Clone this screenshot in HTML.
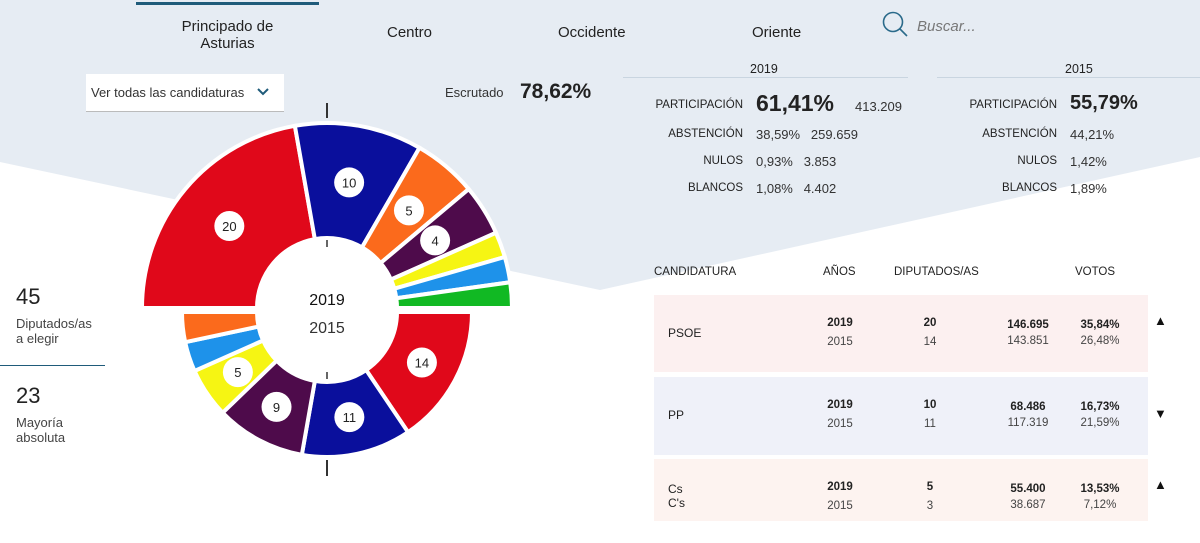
<!DOCTYPE html>
<html><head><meta charset="utf-8">
<style>
body{margin:0;width:1200px;height:543px;overflow:hidden;font-family:"Liberation Sans",sans-serif;color:#222;position:relative;background:#fff}
.a{position:absolute;white-space:nowrap}
.lbl{font-size:11.5px;color:#222;text-align:right;width:120px}
.row{position:absolute;left:654px;width:494px}
.c{position:absolute;font-size:11.5px;text-align:center;width:60px}
</style></head><body>
<svg class="a" style="left:0;top:0" width="1200" height="543">
<polygon points="0,0 1200,0 1200,157 600,290 0,162" fill="#e6ecf3"/>
</svg>
<div class="a" style="left:136px;top:2px;width:183px;height:3px;background:#1f5b7a"></div>
<div class="a" style="left:136px;top:18px;width:183px;text-align:center;font-size:15px;line-height:17px;white-space:normal">Principado de<br>Asturias</div>
<div class="a" style="left:387px;top:24px;font-size:15px">Centro</div>
<div class="a" style="left:558px;top:24px;font-size:15px">Occidente</div>
<div class="a" style="left:752px;top:24px;font-size:15px">Oriente</div>
<svg class="a" style="left:881px;top:10px" width="30" height="28"><circle cx="12" cy="12" r="9.5" fill="none" stroke="#2a6a8a" stroke-width="1.6"/><line x1="19" y1="19" x2="26" y2="26" stroke="#2a6a8a" stroke-width="1.6"/></svg>
<div class="a" style="left:917px;top:18px;font-size:15px;font-style:italic;color:#777">Buscar...</div>
<div class="a" style="left:86px;top:74px;width:198px;height:37px;background:#fff;border-bottom:1px solid #bbb"><span style="position:absolute;left:5px;top:11px;font-size:13px;color:#333">Ver todas las candidaturas</span><svg style="position:absolute;left:170px;top:13px" width="14" height="10"><polyline points="2,2 7,7 12,2" fill="none" stroke="#1f5b7a" stroke-width="2"/></svg></div>
<div class="a" style="left:445px;top:85px;font-size:13px;color:#333">Escrutado</div>
<div class="a" style="left:520px;top:80px;font-size:21px;font-weight:bold;color:#222">78,62%</div>

<div class="a" style="left:623px;top:77px;width:285px;height:1px;background:#c9d5e0"></div>
<div class="a" style="left:750px;top:62px;font-size:12.5px">2019</div>
<div class="a" style="left:937px;top:77px;width:263px;height:1px;background:#c9d5e0"></div>
<div class="a" style="left:1065px;top:62px;font-size:12.5px">2015</div>

<div class="a lbl" style="left:623px;top:99px">PARTICIPACIÓN</div>
<div class="a" style="left:756px;top:90px;font-size:23px;font-weight:bold">61,41%</div>
<div class="a" style="left:855px;top:99px;font-size:13px;color:#333">413.209</div>
<div class="a lbl" style="left:623px;top:128px">ABSTENCIÓN</div>
<div class="a" style="left:756px;top:127px;font-size:13px;color:#333">38,59% &nbsp; 259.659</div>
<div class="a lbl" style="left:623px;top:155px">NULOS</div>
<div class="a" style="left:756px;top:154px;font-size:13px;color:#333">0,93% &nbsp; 3.853</div>
<div class="a lbl" style="left:623px;top:182px">BLANCOS</div>
<div class="a" style="left:756px;top:181px;font-size:13px;color:#333">1,08% &nbsp; 4.402</div>

<div class="a lbl" style="left:937px;top:99px">PARTICIPACIÓN</div>
<div class="a" style="left:1070px;top:92px;font-size:20px;font-weight:bold">55,79%</div>
<div class="a lbl" style="left:937px;top:128px">ABSTENCIÓN</div>
<div class="a" style="left:1070px;top:127px;font-size:13px;color:#333">44,21%</div>
<div class="a lbl" style="left:937px;top:155px">NULOS</div>
<div class="a" style="left:1070px;top:154px;font-size:13px;color:#333">1,42%</div>
<div class="a lbl" style="left:937px;top:182px">BLANCOS</div>
<div class="a" style="left:1070px;top:181px;font-size:13px;color:#333">1,89%</div>

<div class="a" style="left:16px;top:284px;font-size:22px">45</div>
<div class="a" style="left:16px;top:316px;font-size:13px;line-height:15px;color:#444">Diputados/as<br>a elegir</div>
<div class="a" style="left:0;top:365px;width:105px;height:1px;background:#1f5b7a"></div>
<div class="a" style="left:16px;top:383px;font-size:22px">23</div>
<div class="a" style="left:16px;top:415px;font-size:13px;line-height:15px;color:#444">Mayoría<br>absoluta</div>

<svg id="chart" class="a" style="left:0;top:0" width="600" height="543"></svg>

<div class="a" style="left:654px;top:266px;font-size:11.5px">CANDIDATURA</div>
<div class="a" style="left:823px;top:266px;font-size:11.5px">AÑOS</div>
<div class="a" style="left:894px;top:266px;font-size:11.5px">DIPUTADOS/AS</div>
<div class="a" style="left:1075px;top:266px;font-size:11.5px">VOTOS</div>

<div class="row" style="top:295px;height:77px;background:#fcf0f0">
<div class="a" style="left:14px;top:31px;font-size:12px">PSOE</div>
<div class="c" style="left:156px;top:22px;font-weight:bold">2019</div><div class="c" style="left:156px;top:41px;color:#444">2015</div>
<div class="c" style="left:246px;top:22px;font-weight:bold">20</div><div class="c" style="left:246px;top:41px;color:#444">14</div>
<div class="c" style="left:344px;top:24px;font-weight:bold">146.695</div><div class="c" style="left:344px;top:40px;color:#444">143.851</div>
<div class="c" style="left:416px;top:24px;font-weight:bold">35,84%</div><div class="c" style="left:416px;top:40px;color:#444">26,48%</div>
<div class="a" style="left:500px;top:18px;font-size:13px;color:#111">▲</div>
</div>
<div class="row" style="top:377px;height:78px;background:#eff1f9">
<div class="a" style="left:14px;top:31px;font-size:12px">PP</div>
<div class="c" style="left:156px;top:22px;font-weight:bold">2019</div><div class="c" style="left:156px;top:41px;color:#444">2015</div>
<div class="c" style="left:246px;top:22px;font-weight:bold">10</div><div class="c" style="left:246px;top:41px;color:#444">11</div>
<div class="c" style="left:344px;top:24px;font-weight:bold">68.486</div><div class="c" style="left:344px;top:40px;color:#444">117.319</div>
<div class="c" style="left:416px;top:24px;font-weight:bold">16,73%</div><div class="c" style="left:416px;top:40px;color:#444">21,59%</div>
<div class="a" style="left:500px;top:29px;font-size:13px;color:#111">▼</div>
</div>
<div class="row" style="top:459px;height:62px;background:#fdf3f0">
<div class="a" style="left:14px;top:23px;font-size:12px;line-height:14px">Cs<br>C's</div>
<div class="c" style="left:156px;top:22px;font-weight:bold">2019</div><div class="c" style="left:156px;top:41px;color:#444">2015</div>
<div class="c" style="left:246px;top:22px;font-weight:bold">5</div><div class="c" style="left:246px;top:41px;color:#444">3</div>
<div class="c" style="left:344px;top:24px;font-weight:bold">55.400</div><div class="c" style="left:344px;top:40px;color:#444">38.687</div>
<div class="c" style="left:416px;top:24px;font-weight:bold">13,53%</div><div class="c" style="left:416px;top:40px;color:#444">7,12%</div>
<div class="a" style="left:500px;top:18px;font-size:13px;color:#111">▲</div>
</div>

<script>
const parties2019 = ["PSOE","PP","Cs","Podemos","IU","Foro","Vox"];
const seats2019 = [20,10,5,4,2,2,2];
const colors2019 = ["#e0081a","#0a0f9c","#fb6a1c","#4e0b4b","#f6f513","#1e92ea","#11b923"];
const parties2015 = ["PSOE","PP","Podemos","IU","Foro","Cs"];
const seats2015 = [14,11,9,5,3,3];
const colors2015 = ["#e0081a","#0a0f9c","#4e0b4b","#f6f513","#1e92ea","#fb6a1c"];
const totalSeats = 45;

const svg = document.getElementById('chart');
const NS = 'http://www.w3.org/2000/svg';
const cx = 327;
function angleScale(v){ return v / totalSeats * Math.PI; }
function pt(cy, r, a){ return [cx + r*Math.cos(a), cy + r*Math.sin(a)]; }
function arc(cy, r0, r1, a0, a1){
  const p0=pt(cy,r1,a0), p1=pt(cy,r1,a1), p2=pt(cy,r0,a1), p3=pt(cy,r0,a0);
  const lg = (a1-a0)>Math.PI?1:0;
  return `M${p0}A${r1},${r1} 0 ${lg} 1 ${p1}L${p2}A${r0},${r0} 0 ${lg} 0 ${p3}Z`;
}
function ring(seats, colors, parties, cy, r0, r1, start, year){
  let acc = 0;
  seats.forEach((s,i)=>{
    const a0 = start + angleScale(acc), a1 = start + angleScale(acc+s);
    acc += s;
    const p = document.createElementNS(NS,'path');
    p.setAttribute('d', arc(cy, r0, r1, a0, a1));
    p.setAttribute('fill', colors[i]);
    p.setAttribute('stroke', '#fff');
    p.setAttribute('stroke-width', '4');
    
    
    svg.appendChild(p);
    if (s >= 4) {
      const m = pt(cy, (r0+r1)/2, (a0+a1)/2);
      const c = document.createElementNS(NS,'circle');
      c.setAttribute('cx', m[0]); c.setAttribute('cy', m[1]); c.setAttribute('r', 15);
      c.setAttribute('fill', '#fff');
      
      
      svg.appendChild(c);
      const t = document.createElementNS(NS,'text');
      t.setAttribute('x', m[0]); t.setAttribute('y', m[1]+5);
      t.setAttribute('text-anchor', 'middle');
      t.setAttribute('font-size', '13');
      t.setAttribute('fill', '#222');
      
      
      t.textContent = s;
      svg.appendChild(t);
    }
  });
}
ring(seats2019, colors2019, parties2019, 308, 70, 185, Math.PI, '2019');
ring(seats2015, colors2015, parties2015, 312, 70, 145, 0, '2015');
const extra = `<circle cx="327" cy="310" r="70" fill="#fff"/>
<line x1="327" y1="103" x2="327" y2="118" stroke="#333" stroke-width="2"/>
<line x1="327" y1="240" x2="327" y2="247" stroke="#333" stroke-width="1.5"/>
<line x1="327" y1="372" x2="327" y2="379" stroke="#333" stroke-width="1.5"/>
<line x1="327" y1="460" x2="327" y2="476" stroke="#333" stroke-width="2"/>
<text x="327" y="305" text-anchor="middle" font-size="16" fill="#111">2019</text>
<text x="327" y="333" text-anchor="middle" font-size="16" fill="#333">2015</text>`;
svg.insertAdjacentHTML('beforeend', extra);
</script>
</body></html>
